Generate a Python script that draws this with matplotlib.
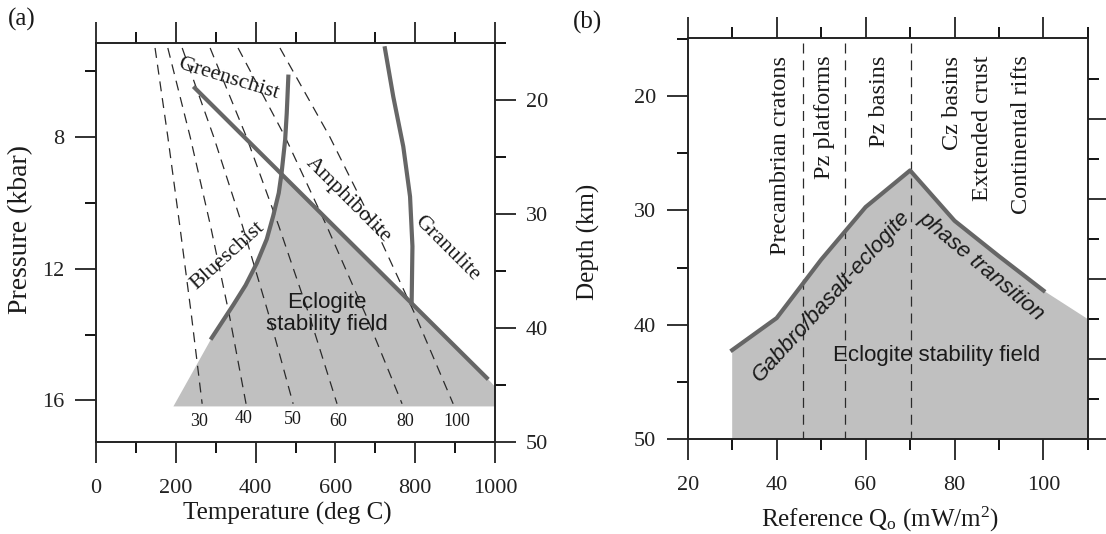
import numpy as np
import matplotlib
matplotlib.use("Agg")
import matplotlib.pyplot as plt
from matplotlib.ticker import FixedLocator, NullFormatter

plt.rcParams['font.family'] = ['Liberation Serif', 'DejaVu Serif']
plt.rcParams['mathtext.fontset'] = 'custom'
plt.rcParams['mathtext.rm'] = 'Liberation Serif'
plt.rcParams['mathtext.it'] = 'Liberation Serif:italic'

# ---------------- (a) metamorphic facies in P-T space ----------------
geotherm_names = ['30', '40', '50', '60', '80', '100']
geotherm_pressure = [5.3, 8.0, 10.7, 13.4, 16.1]          # kbar
geotherm_30 = [148, 180, 210, 239, 266]                   # deg C
geotherm_40 = [180, 236, 287, 334, 376]
geotherm_50 = [216, 295, 367, 433, 494]
geotherm_60 = [286, 377, 458, 534, 604]
geotherm_80 = [356, 474, 578, 676, 767]
geotherm_100 = [461, 586, 697, 800, 895]
geotherm_label_T = [258, 371, 494, 607, 774, 905]
geotherm_label_P = [16.64, 16.55, 16.58, 16.64, 16.64, 16.64]

# eclogite-in boundary (straight line)
eclogite_T = [244, 983]
eclogite_P = [6.47, 15.36]
# blueschist / greenschist boundary
blueschist_T = [482, 478, 474, 465, 458, 444, 428, 403, 375, 344, 290]
blueschist_P = [6.17, 7.28, 8.09, 9.10, 9.70, 10.40, 11.10, 11.83, 12.50, 13.10, 14.10]
# granulite boundary
granulite_T = [724, 745, 770, 787, 793, 791]
granulite_P = [5.31, 6.78, 8.29, 9.81, 11.32, 13.04]
# outer corners of the shaded eclogite field
field_corner_T = [1000, 1000, 194]
field_corner_P = [15.58, 16.18, 16.18]

# ---------------- (b) depth of gabbro-eclogite transition ----------------
heat_flow = [30, 40, 50, 60, 70, 80, 90, 100]                  # mW/m2
transition_depth = [42.2, 39.4, 34.3, 29.7, 26.5, 30.9, 34.0, 37.0]  # km
field_edge_q = [110]
field_edge_depth = [39.5]
province_bounds = [46.0, 55.4, 70.3]
provinces = ['Precambrian cratons', 'Pz platforms', 'Pz basins',
             'Cz basins', 'Extended crust', 'Continental rifts']
province_q = [40.8, 50.8, 63.2, 79.6, 86.2, 95.0]

LINE_GRAY = '#666666'
FILL_GRAY = '#c0c0c0'
TXT = '#1a1a1a'
SANS = ['Liberation Sans', 'DejaVu Sans']

fig = plt.figure(figsize=(11.06, 5.34), dpi=100)
axA = fig.add_axes([0.0868, 0.1723, 0.3608, 0.7477])
axB = fig.add_axes([0.6218, 0.1773, 0.3619, 0.7510])


def style_ticks(ax, pad=8):
    ax.tick_params(which='major', direction='out', length=15, width=1.3,
                   labelsize=16, pad=pad, colors='#222222')
    ax.tick_params(which='minor', direction='out', length=8, width=1.3)
    ax.tick_params(axis='x', which='major', pad=11.5)
    for s in ax.spines.values():
        s.set_linewidth(1.2)
        s.set_color('#222222')


# ---- panel (a)
axA.set_xlim(0, 1000)
axA.set_ylim(17.26, 5.14)
axA.xaxis.set_major_locator(FixedLocator([0, 200, 400, 600, 800, 1000]))
axA.xaxis.set_minor_locator(FixedLocator([100, 300, 500, 700, 900]))
axA.yaxis.set_major_locator(FixedLocator([8, 12, 16]))
axA.yaxis.set_minor_locator(FixedLocator([6, 10, 14]))
axA.tick_params(which='both', top=True, labeltop=False)
style_ticks(axA)

field_T = blueschist_T[::-1][:8] + [eclogite_T[1]] + field_corner_T
field_P = blueschist_P[::-1][:8] + [eclogite_P[1]] + field_corner_P
axA.fill(field_T, field_P, color=FILL_GRAY, lw=0, zorder=1)

for g in [geotherm_30, geotherm_40, geotherm_50, geotherm_60, geotherm_80, geotherm_100]:
    axA.plot(g, geotherm_pressure, color='#2a2a2a', lw=0.9,
             dashes=(8, 5.5), zorder=2)
for name, t, p in zip(geotherm_names, geotherm_label_T, geotherm_label_P):
    axA.text(t, p, name, fontsize=13, ha='center', va='center', color=TXT)

axA.plot(eclogite_T, eclogite_P, color=LINE_GRAY, lw=3.0,
         solid_capstyle='butt', zorder=3)
axA.plot(blueschist_T, blueschist_P, color=LINE_GRAY, lw=3.0, zorder=3)
axA.plot(granulite_T, granulite_P, color=LINE_GRAY, lw=3.0, zorder=3)

axA.text(331, 6.25, 'Greenschist', fontsize=16, rotation=-17,
         ha='center', va='center', color=TXT)
axA.text(632, 9.93, 'Amphibolite', fontsize=16, rotation=-45,
         ha='center', va='center', color=TXT)
axA.text(879, 11.39, 'Granulite', fontsize=16, rotation=-45,
         ha='center', va='center', color=TXT)
axA.text(329, 11.6, 'Blueschist', fontsize=16, rotation=42,
         ha='center', va='center', color=TXT)
axA.text(578, 13.35, 'Eclogite\nstability field', fontsize=16,
         family=SANS, ha='center', va='center', linespacing=1.05, color=TXT)

axA.set_xlabel('Temperature (deg C)', fontsize=18, color=TXT)
axA.xaxis.label.set_va('center')
axA.xaxis.set_label_coords(0.48, -0.178)
axA.set_ylabel('Pressure (kbar)', fontsize=20, color=TXT)
axA.yaxis.label.set_va('center')
axA.yaxis.set_label_coords(-0.19, 0.533)

depthA = axA.twinx()
depthA.set_ylim(50, 14.96)
depthA.yaxis.set_major_locator(FixedLocator([20, 30, 40, 50]))
depthA.yaxis.set_minor_locator(FixedLocator([15, 25, 35, 45]))
style_ticks(depthA, pad=7)
depthA.tick_params(which='both', right=True)

# ---- panel (b)
axB.set_xlim(20, 110)
axB.set_ylim(50, 14.95)
axB.xaxis.set_major_locator(FixedLocator([20, 40, 60, 80, 100]))
axB.xaxis.set_minor_locator(FixedLocator([30, 50, 70, 90, 110]))
axB.yaxis.set_major_locator(FixedLocator([20, 30, 40, 50]))
axB.yaxis.set_minor_locator(FixedLocator([15, 25, 35, 45]))
axB.tick_params(which='both', top=True, labeltop=False)
style_ticks(axB)

fill_q = [heat_flow[0]] + heat_flow + field_edge_q + field_edge_q
fill_d = [50] + transition_depth + field_edge_depth + [50]
axB.fill(fill_q, fill_d, color=FILL_GRAY, lw=0, zorder=1)
axB.plot(heat_flow, transition_depth, color=LINE_GRAY, lw=3.0, zorder=3)

for q in province_bounds:
    axB.plot([q, q], [15.4, 50], color='#2a2a2a', lw=0.9, dashes=(8, 5.5), zorder=2)

for name, q in zip(provinces, province_q):
    axB.text(q, 16.46, name, fontsize=17.5, rotation=90, ha='center',
             va='top', color=TXT)

axB.text(52.3, 37.5, 'Gabbro/basalt-eclogite', fontsize=16, family=SANS,
         style='italic', rotation=47.7, ha='center', va='center', color=TXT)
axB.text(86.1, 34.9, 'phase transition', fontsize=16, family=SANS,
         style='italic', rotation=-40, ha='center', va='center', color=TXT)
axB.text(76.0, 42.7, 'Eclogite stability field', fontsize=16, family=SANS,
         ha='center', va='center', color=TXT)

axB.set_xlabel(r'Reference Q$_{\mathrm{o}}$ (mW/m$^{2}$)', fontsize=18, color=TXT)
axB.xaxis.label.set_va('center')
axB.xaxis.set_label_coords(0.48, -0.2)
axB.set_ylabel('Depth (km)', fontsize=18, color=TXT)
axB.yaxis.label.set_va('center')
axB.yaxis.set_label_coords(-0.249, 0.493)

pressB = axB.twinx()
pressB.set_ylim(50, 14.95)
pressB.yaxis.set_major_locator(FixedLocator([22, 29, 36, 43, 50]))
pressB.yaxis.set_minor_locator(FixedLocator([18.5, 25.5, 32.5, 39.5, 46.5]))
pressB.yaxis.set_major_formatter(NullFormatter())
style_ticks(pressB)

fig.text(22 / 1106, 1 - 19 / 534, '(a)', fontsize=18, ha='center', va='center', color=TXT)
fig.text(588 / 1106, 1 - 22 / 534, '(b)', fontsize=18, ha='center', va='center', color=TXT)

fig.savefig('out.png', dpi=100)
